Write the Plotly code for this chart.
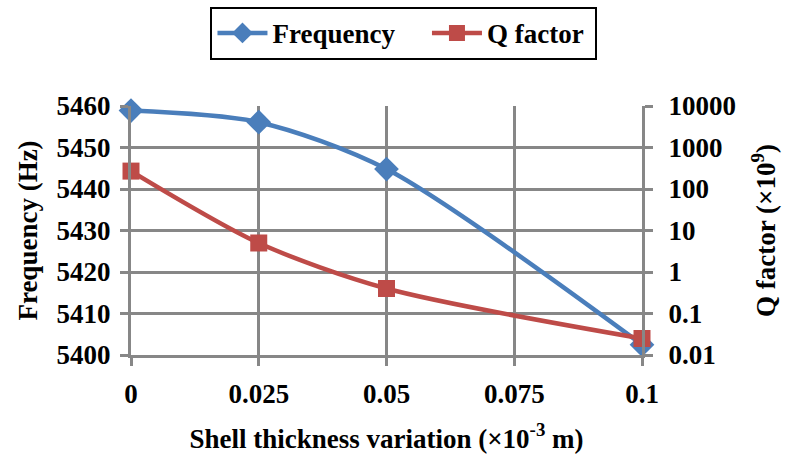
import plotly.graph_objects as go

# Shell thickness variation (x10^-3 m)
thickness = [0, 0.025, 0.05, 0.1]
# Resonant frequency (Hz)
frequency = [5458.9, 5456.1, 5444.8, 5402.5]
# Q factor (x10^9)
q_factor = [270, 5.0, 0.40, 0.025]

x_ticks = [0, 0.025, 0.05, 0.075, 0.1]
x_ticktext = ["0", "0.025", "0.05", "0.075", "0.1"]
freq_ticks = [5400, 5410, 5420, 5430, 5440, 5450, 5460]
q_ticks = [0.01, 0.1, 1, 10, 100, 1000, 10000]
q_ticktext = ["0.01", "0.1", "1", "10", "100", "1000", "10000"]

BLUE = "#4A7EBB"
RED = "#BE4B48"
GRID = "#878787"
FONT = "Liberation Serif"
NBSP = "\u00a0"

fig = go.Figure()
fig.add_trace(go.Scatter(
    x=thickness, y=frequency, name="<b>Frequency</b>" + NBSP * 4,
    mode="lines+markers", line=dict(color=BLUE, width=4.5, shape="spline", smoothing=0.8),
    marker=dict(symbol="diamond", size=19, color=BLUE),
    cliponaxis=False, yaxis="y",
))
fig.add_trace(go.Scatter(
    x=thickness, y=q_factor, name="<b>Q factor</b>" + NBSP,
    mode="lines+markers", line=dict(color=RED, width=4.5, shape="spline", smoothing=0.8),
    marker=dict(symbol="square", size=17, color=RED),
    cliponaxis=False, yaxis="y2",
))

tickfont = dict(family=FONT, size=27, color="black", weight="bold")
titlefont = dict(family=FONT, size=27, color="black", weight="bold")

fig.update_layout(
    width=789, height=461,
    margin=dict(l=131, r=142, t=106, b=106),
    paper_bgcolor="white", plot_bgcolor="white",
    font=dict(family=FONT, color="black"),
    showlegend=True,
    legend=dict(
        orientation="h", xref="container", yref="container",
        x=0.512, xanchor="center", y=0.985, yanchor="top",
        bordercolor="black", borderwidth=2,
        font=dict(family=FONT, size=27, color="black"),
        itemwidth=50, entrywidth=0,
    ),
    xaxis=dict(
        range=[0, 0.1], tickvals=x_ticks, ticktext=x_ticktext,
        showgrid=True, gridcolor=GRID, gridwidth=3,
        showline=True, linecolor=GRID, linewidth=3,
        ticks="outside", ticklen=8, tickwidth=3, tickcolor=GRID,
        tickfont=tickfont, ticklabelstandoff=5,
        zeroline=False,
        title=dict(text="<b>Shell thickness variation (×10<sup>-3</sup> m)</b>", font=titlefont, standoff=21),
    ),
    yaxis=dict(
        range=[5400, 5460], tickvals=freq_ticks,
        showgrid=True, gridcolor=GRID, gridwidth=3,
        showline=True, linecolor=GRID, linewidth=3,
        ticks="outside", ticklen=8, tickwidth=3, tickcolor=GRID,
        tickfont=tickfont, ticklabelstandoff=4,
        zeroline=False,
        title=dict(text="<b>Frequency (Hz)</b>", font=titlefont, standoff=12),
    ),
    yaxis2=dict(
        type="log", range=[-2, 4], tickvals=q_ticks, ticktext=q_ticktext,
        overlaying="y", side="right", showgrid=False,
        showline=True, linecolor=GRID, linewidth=3,
        ticks="outside", ticklen=8, tickwidth=3, tickcolor=GRID,
        tickfont=tickfont, ticklabelstandoff=10,
        zeroline=False,
        title=dict(text="<b>Q factor (×10<sup>9</sup>)</b>", font=titlefont, standoff=22),
    ),
)

fig.write_html("out.html")
